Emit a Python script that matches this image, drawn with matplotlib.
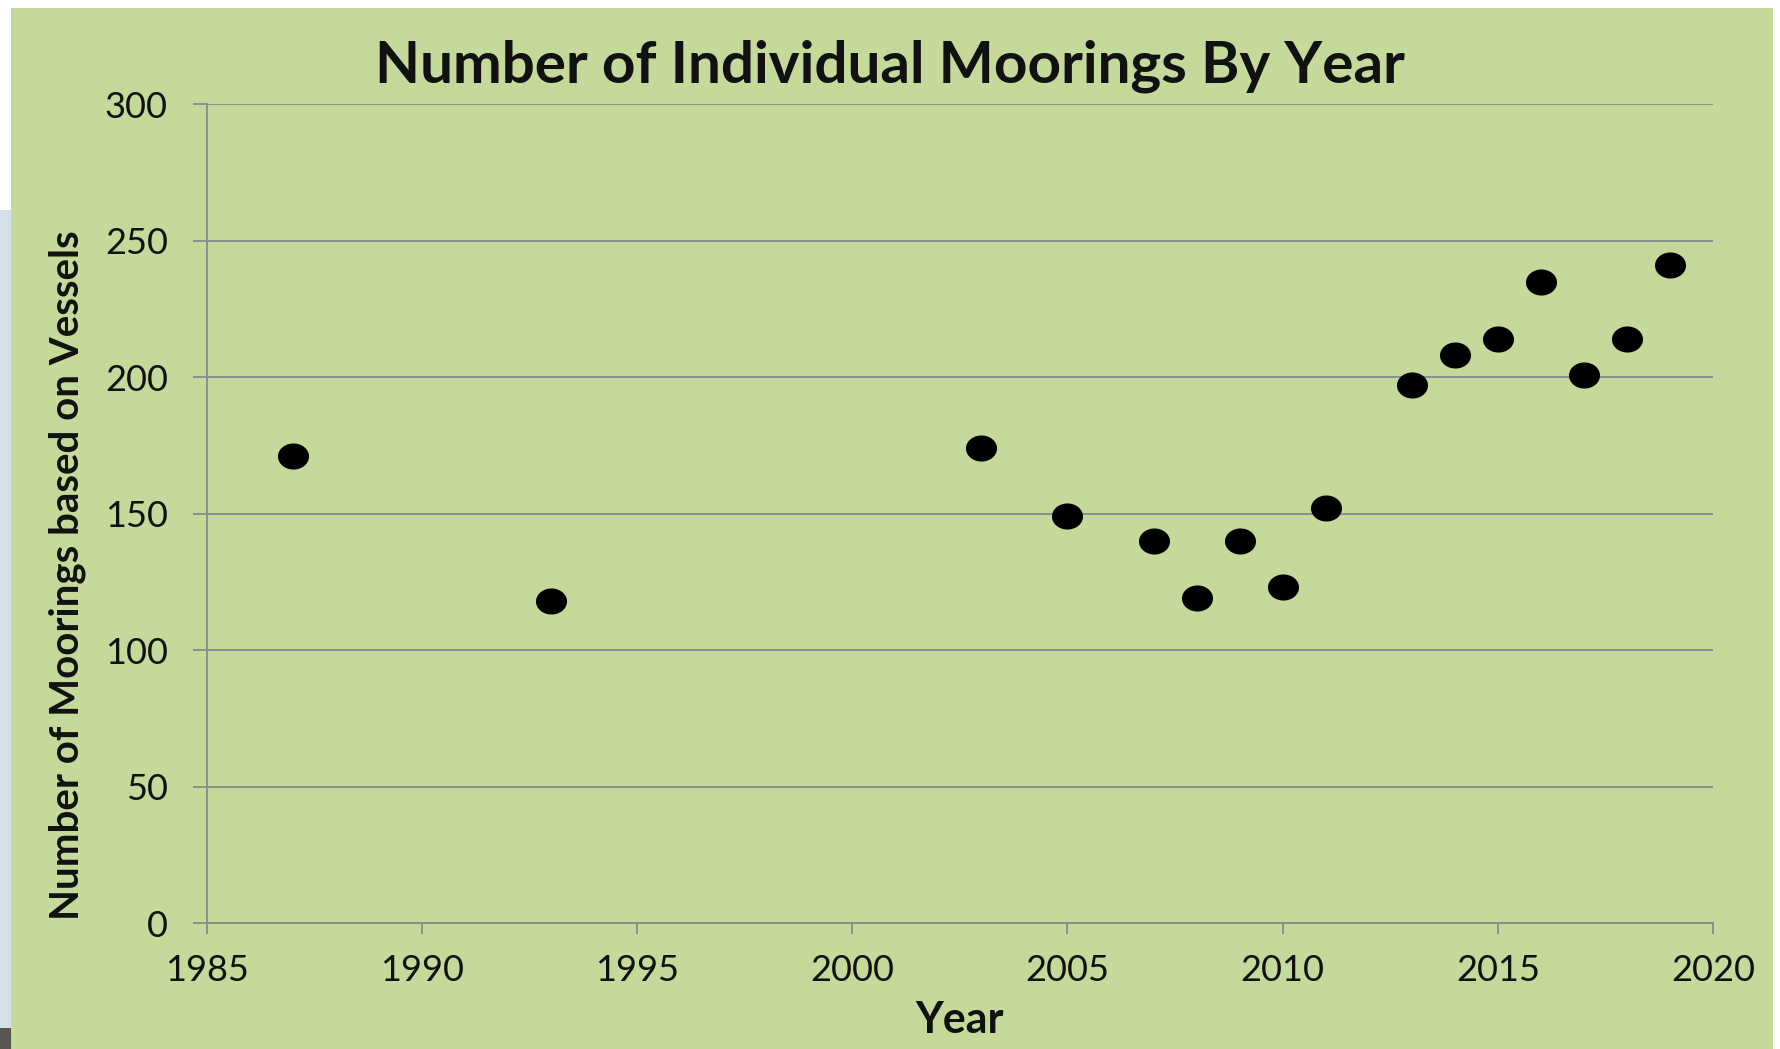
import matplotlib
matplotlib.use('Agg')
import matplotlib.pyplot as plt
import numpy as np
from matplotlib.patches import Rectangle
from matplotlib.path import Path

# mooring counts
years = [1987, 1993, 2003, 2005, 2007, 2008, 2009, 2010, 2011,
         2013, 2014, 2015, 2016, 2017, 2018, 2019]
moorings = [171, 118, 174, 149, 140, 119, 140, 123, 152,
            197, 208, 214, 235, 201, 214, 241]
x_ticks = [1985, 1990, 1995, 2000, 2005, 2010, 2015, 2020]
y_ticks = [0, 50, 100, 150, 200, 250, 300]

green = '#c5d99a'
grid_col = '#8a8f8e'
plt.rcParams['font.family'] = ['Lato', 'DejaVu Sans']

fig = plt.figure(figsize=(17.8, 10.49), dpi=100)
fig.patch.set_facecolor('white')
# pale strip on the left and the green panel behind the chart
bg = [Rectangle((0, 0), 0.006, 0.80, facecolor='#d3dfe9'),
      Rectangle((0, 0), 0.006, 0.02, facecolor='#5a5550'),
      Rectangle((0.006, 0), 0.99, 0.992, facecolor=green)]
for r in bg:
    r.set_transform(fig.transFigure)
    r.set_edgecolor('none')
    r.set_zorder(-10)
    fig.add_artist(r)

# slightly flattened dot, like the original
t = np.linspace(0, 2 * np.pi, 60)
dot = Path(np.column_stack([np.cos(t), 0.84 * np.sin(t)]))

ax = fig.add_axes([0.1161, 0.1201, 0.8463, 0.7804])
ax.set_facecolor('none')
ax.scatter(years, moorings, s=500, marker=dot, color='black', zorder=3,
           linewidths=0)

ax.set_xlim(1985, 2020)
ax.set_ylim(0, 300)
ax.set_xticks(x_ticks)
ax.set_yticks(y_ticks)
ax.yaxis.grid(True, color=grid_col, linewidth=1.4)
ax.set_axisbelow(True)

for side in ['top', 'right']:
    ax.spines[side].set_visible(False)
for side in ['left', 'bottom']:
    ax.spines[side].set_color(grid_col)
    ax.spines[side].set_linewidth(1.4)

ax.tick_params(axis='x', length=8, width=1.4, color=grid_col,
               labelsize=26, pad=14, labelcolor='#111111')
ax.tick_params(axis='y', length=10, width=1.4, color=grid_col,
               labelsize=26, pad=18, labelcolor='#111111')

fig.text(0.5, 0.937, 'Number of Individual Moorings By Year', ha='center',
         va='center', fontsize=42, fontweight='bold', color='#111111')
fig.text(0.038, 0.452, 'Number of Moorings based on Vessels', rotation=90,
         ha='center', va='center', fontsize=29, fontweight='bold',
         color='#111111')
fig.text(0.539, 0.028, 'Year', ha='center', va='center', fontsize=31,
         fontweight='bold', color='#111111')

plt.savefig('out.png', dpi=100, facecolor=fig.get_facecolor())
